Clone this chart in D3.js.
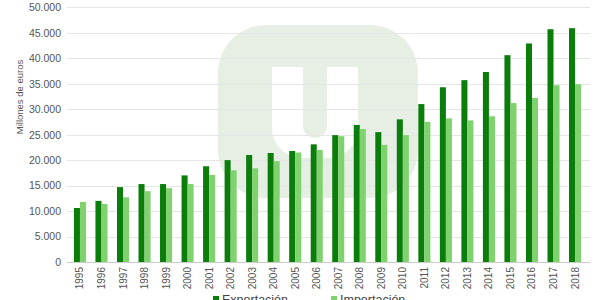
<!DOCTYPE html>
<html>
<head>
<meta charset="utf-8">
<script src="https://cdn.jsdelivr.net/npm/d3@7"></script>
<style>
html,body{margin:0;padding:0;background:#fff;overflow:hidden;}
svg{display:block;font-family:"Liberation Sans",Arial,sans-serif;}
</style>
</head>
<body>
<svg id="chart" width="600" height="300"></svg>
<script>
const years = ["1995","1996","1997","1998","1999","2000","2001","2002","2003","2004","2005","2006","2007","2008","2009","2010","2011","2012","2013","2014","2015","2016","2017","2018"];
const exportacion = [10600,12000,14700,15300,15300,17000,18800,20000,21000,21400,21800,23100,24900,26900,25500,28000,31000,34300,35700,37300,40600,42900,45700,45900];
const importacion = [11800,11400,12700,13900,14500,15300,17100,18000,18400,19800,21500,22000,24700,26100,23000,24900,27500,28200,27800,28600,31200,32200,34700,34900];
const seriesNames = ["Exportación","Importación"];
const seriesColors = ["#0a7d0a","#80d26f"];
const yTicks = [0,5000,10000,15000,20000,25000,30000,35000,40000,45000,50000];
const yTitle = "Millones de euros";

const svg = d3.select("#chart");

// faint watermark logo in background
const wm = svg.append("g");
wm.append("rect").attr("x",218).attr("y",25).attr("width",200).attr("height",173).attr("rx",48).attr("fill","#e7efe4");
wm.append("path").attr("fill","#ffffff")
  .attr("d","M272,67 H358 V128 A30,30 0 0 1 328,158 H302 A30,30 0 0 1 272,128 Z");
wm.append("path").attr("fill","#e7efe4")
  .attr("d","M303,60 H327 V126 A12,12 0 0 1 303,126 Z");

const x = d3.scaleBand().domain(years).range([69.2,585.8]).paddingInner(0.44).paddingOuter(0.22);
const x1 = d3.scaleBand().domain(seriesNames).range([0,x.bandwidth()]);
const y = d3.scaleLinear().domain([0,50000]).range([262,7.3]);

const fmt = v => d3.format(",")(v).replace(/,/g,".");

// gridlines
svg.append("g").selectAll("line").data(yTicks).join("line")
  .attr("x1",67).attr("x2",590)
  .attr("y1",d=>Math.round(y(d))+0.5).attr("y2",d=>Math.round(y(d))+0.5)
  .attr("stroke",d=>d===0?"#cccccc":"#e6e6e6").attr("stroke-width",1);

// y axis labels
const yAxis = d3.axisLeft(y).tickValues(yTicks).tickFormat(fmt).tickSize(0).tickPadding(0);
const ya = svg.append("g").attr("transform","translate(61,0)").call(yAxis);
ya.select(".domain").remove();
ya.selectAll("text").attr("font-size","10.5px").attr("fill","#555").attr("font-family","Liberation Sans, Arial, sans-serif");

// y title
svg.append("text").attr("transform","translate(23,97) rotate(-90)")
  .attr("text-anchor","middle").attr("font-size","9.5px").attr("fill","#555").text(yTitle);

// bars
const data = years.map((yr,i)=>({year:yr, vals:[exportacion[i],importacion[i]]}));
const groups = svg.append("g").selectAll("g").data(data).join("g")
  .attr("transform",d=>`translate(${x(d.year)},0)`);
groups.selectAll("rect").data(d=>d.vals.map((v,j)=>({name:seriesNames[j],v,j}))).join("rect")
  .attr("x",d=>x1(d.name)).attr("width",x1.bandwidth())
  .attr("y",d=>y(d.v)).attr("height",d=>y(0)-y(d.v))
  .attr("fill",d=>seriesColors[d.j]);

// x axis labels
const xAxis = d3.axisBottom(x).tickSize(0).tickPadding(0);
const xa = svg.append("g").attr("transform","translate(0,262)").call(xAxis);
xa.select(".domain").remove();
xa.selectAll("text").attr("font-size","10px").attr("fill","#555")
  .attr("font-family","Liberation Sans, Arial, sans-serif")
  .attr("text-anchor","end").attr("dy","0.35em")
  .attr("transform","translate(0,5) rotate(-90)").attr("x",0).attr("y",0);

// legend
const legX = [213,331];
const leg = svg.append("g").selectAll("g").data(seriesNames).join("g")
  .attr("transform",(d,i)=>`translate(${legX[i]},0)`);
leg.append("rect").attr("x",0).attr("y",296).attr("width",6).attr("height",6).attr("fill",(d,i)=>seriesColors[i]);
leg.append("text").attr("x",9).attr("y",303.5).attr("font-size","12.5px").attr("fill","#444").text(d=>d);
</script>
</body>
</html>
